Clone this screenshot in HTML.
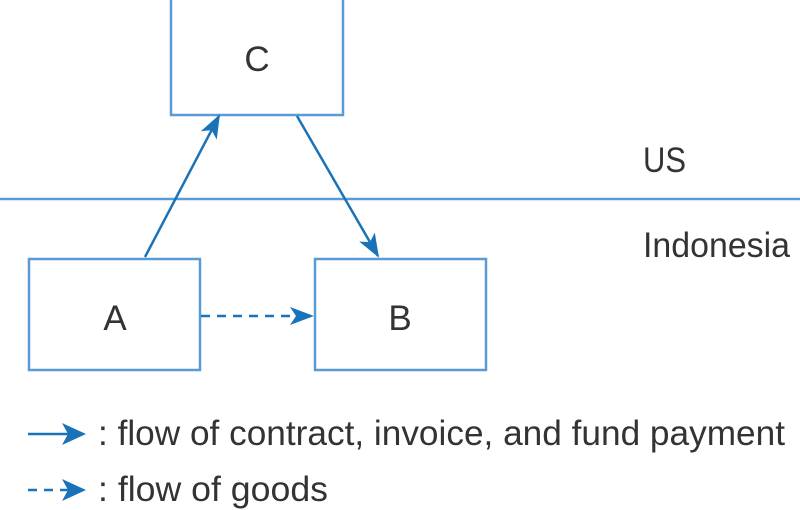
<!DOCTYPE html>
<html><head><meta charset="utf-8"><style>body{margin:0;background:#fff}svg{display:block}</style></head>
<body>
<svg width="800" height="510" viewBox="0 0 800 510" xmlns="http://www.w3.org/2000/svg" font-family="Liberation Sans, sans-serif" fill="#333">
<defs>
<marker id="ah2" markerWidth="24" markerHeight="24" refX="22" refY="12" orient="auto" markerUnits="userSpaceOnUse" viewBox="0 0 24 24">
<path d="M0,3 L24,12 L0,21 L6,12 Z" fill="#1a73b8"/>
</marker>
</defs>
<g fill="none" stroke="#5b9bd5" stroke-width="2.5">
<rect x="171" y="-2" width="172" height="117"/>
<rect x="29" y="259" width="171" height="111"/>
<rect x="315" y="259" width="171" height="111"/>
<line x1="0" y1="199" x2="800" y2="199"/>
</g>
<g stroke="#1a73b8" stroke-width="2.5" fill="none">
<line x1="145" y1="257" x2="219" y2="116" marker-end="url(#ah2)"/>
<line x1="297" y1="116" x2="378" y2="256" marker-end="url(#ah2)"/>
<line x1="201" y1="316" x2="312" y2="316" stroke-dasharray="9,7" marker-end="url(#ah2)"/>
<line x1="28" y1="434" x2="80" y2="434"/>
<line x1="28" y1="490" x2="80" y2="490" stroke-dasharray="9,7"/>
</g>
<path d="M62,423 L86,434 L62,445 L68,434 Z" fill="#1a73b8"/>
<path d="M62,479 L86,490 L62,501 L68,490 Z" fill="#1a73b8"/>
<g font-size="35">
<text x="257" y="71" text-anchor="middle">C</text>
<text x="115" y="330" text-anchor="middle">A</text>
<text x="400" y="330" text-anchor="middle">B</text>
<text x="643" y="172" textLength="43" lengthAdjust="spacingAndGlyphs">US</text>
<text x="643" y="257" textLength="147" lengthAdjust="spacingAndGlyphs">Indonesia</text>
<text x="98" y="445" textLength="687" lengthAdjust="spacingAndGlyphs">: flow of contract, invoice, and fund payment</text>
<text x="98" y="501" textLength="230" lengthAdjust="spacingAndGlyphs">: flow of goods</text>
</g>
</svg>
</body></html>
